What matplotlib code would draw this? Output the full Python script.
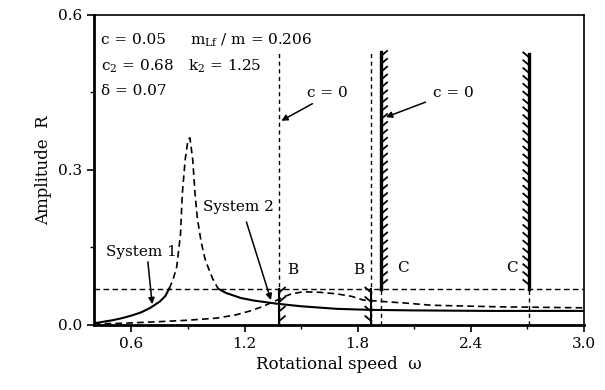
import numpy as np
import matplotlib
matplotlib.use('Agg')
import matplotlib.pyplot as plt
import matplotlib.patheffects as pe

plt.rcParams['font.family'] = ['DejaVu Serif']
plt.rcParams['mathtext.fontset'] = 'dejavuserif'

DELTA = 0.07

# system 1: resonance curve (solid below clearance, dashed above)
w1 = [0.40, 0.45, 0.50, 0.55, 0.60, 0.65, 0.70, 0.75, 0.78, 0.80, 0.82, 0.84, 0.86, 0.87,
      0.885, 0.90, 0.91, 0.925, 0.937, 0.95, 0.97, 0.99, 1.006, 1.03, 1.06, 1.10, 1.18,
      1.25, 1.37, 1.50, 1.69, 1.87, 2.10, 2.50, 3.00]
r1 = [0.003, 0.006, 0.009, 0.013, 0.018, 0.024, 0.033, 0.045, 0.056, 0.070, 0.087, 0.112,
      0.175, 0.255, 0.320, 0.358, 0.362, 0.320, 0.255, 0.205, 0.160, 0.128, 0.112, 0.090,
      0.070, 0.062, 0.052, 0.047, 0.041, 0.036, 0.031, 0.029, 0.028, 0.027, 0.027]

# system 2: lower dashed curve
w2 = [0.40, 0.55, 0.735, 0.90, 1.05, 1.15, 1.23, 1.30, 1.335, 1.38, 1.405, 1.45, 1.51,
      1.60, 1.69, 1.77, 1.83, 1.87, 1.94, 2.06, 2.19, 2.54, 3.00]
r2 = [0.002, 0.003, 0.006, 0.009, 0.013, 0.019, 0.027, 0.036, 0.042, 0.049, 0.054, 0.060,
      0.064, 0.063, 0.060, 0.055, 0.048, 0.047, 0.045, 0.042, 0.038, 0.035, 0.033]

# stop positions
wB = [1.383, 1.872]
wC = [1.925, 2.71]
top_B = 0.53
top_C = [0.528, 0.525]

fig = plt.figure(figsize=(6.05, 3.9), dpi=100)
ax = fig.add_axes([0.155, 0.167, 0.81, 0.795])

w1a = np.array(w1)
r1a = np.array(r1)
ax.plot(w1a, np.where(r1a <= DELTA + 1e-9, r1a, np.nan), color='k', lw=1.5)
ax.plot(w1a, np.where(r1a >= DELTA - 1e-9, r1a, np.nan), color='k', lw=1.2, ls=(0, (4, 2.5)))
ax.plot(w2, r2, color='k', lw=1.2, ls=(0, (4, 2.5)))

# clearance line
ax.axhline(DELTA, color='k', lw=1.0, ls=(0, (4, 2.5)))

# B: dashed lines with hatched stops below clearance
for i, w in enumerate(wB):
    ax.plot([w, w], [0, top_B], color='k', lw=1.0, ls=(0, (3, 2.5)))
    ang = -50 if i == 0 else 50
    ax.plot([w, w], [0, DELTA], color='k', lw=1.5,
            path_effects=[pe.withTickedStroke(angle=ang, length=1.0, spacing=5.5, linewidth=1.3)])

# C: hatched walls above clearance, dashed below
for i, w in enumerate(wC):
    ax.plot([w, w], [0, DELTA], color='k', lw=1.0, ls=(0, (3, 2.5)))
    ang = -50 if i == 0 else 50
    ax.plot([w, w], [DELTA, top_C[i]], color='k', lw=2.4,
            path_effects=[pe.withTickedStroke(angle=ang, length=1.0, spacing=5.5, linewidth=1.3)])

fs = 11
ax.text(1.458, 0.106, 'B', fontsize=fs, ha='center', va='center')
ax.text(1.804, 0.106, 'B', fontsize=fs, ha='center', va='center')
ax.text(2.04, 0.11, 'C', fontsize=fs, ha='center', va='center')
ax.text(2.62, 0.11, 'C', fontsize=fs, ha='center', va='center')

arr = dict(arrowstyle='-|>', color='k', lw=1.1, mutation_scale=9, shrinkA=0, shrinkB=0)
ax.annotate('', xy=(1.395, 0.395), xytext=(1.56, 0.428), arrowprops=arr)
ax.text(1.64, 0.449, 'c = 0', fontsize=fs, ha='center', va='center')
ax.annotate('', xy=(1.95, 0.402), xytext=(2.16, 0.431), arrowprops=arr)
ax.text(2.31, 0.449, 'c = 0', fontsize=fs, ha='center', va='center')
ax.annotate('', xy=(1.34, 0.048), xytext=(1.21, 0.199), arrowprops=arr)
ax.text(1.166, 0.228, 'System 2', fontsize=fs, ha='center', va='center')
ax.annotate('', xy=(0.71, 0.04), xytext=(0.687, 0.122), arrowprops=arr)
ax.text(0.655, 0.141, 'System 1', fontsize=fs, ha='center', va='center')

ax.text(0.437, 0.551, 'c = 0.05', fontsize=fs, va='center')
ax.text(0.437, 0.500, r'c$_\mathrm{2}$ = 0.68', fontsize=fs, va='center')
ax.text(0.437, 0.453, 'δ = 0.07', fontsize=fs, va='center')
ax.text(0.91, 0.551, r'm$_\mathrm{Lf}$ / m = 0.206', fontsize=fs, va='center')
ax.text(0.90, 0.500, r'k$_\mathrm{2}$ = 1.25', fontsize=fs, va='center')

ax.set_xlim(0.4, 3.0)
ax.set_ylim(0.0, 0.6)
ax.set_xticks([0.6, 1.2, 1.8, 2.4, 3.0])
ax.set_xticks([0.9, 1.5, 2.1, 2.7], minor=True)
ax.set_yticks([0.0, 0.3, 0.6])
ax.set_yticks([0.15, 0.45], minor=True)
ax.tick_params(direction='out', length=5, width=1.2, labelsize=fs)
ax.tick_params(which='minor', direction='out', length=3, width=1.0)
for s in ax.spines.values():
    s.set_linewidth(1.2)
ax.spines['left'].set_linewidth(2.0)
ax.spines['bottom'].set_linewidth(2.0)

ax.set_xlabel('Rotational speed  ω', fontsize=12)
ax.set_ylabel('Amplitude  R', fontsize=12)

fig.savefig('out.png', dpi=100)
